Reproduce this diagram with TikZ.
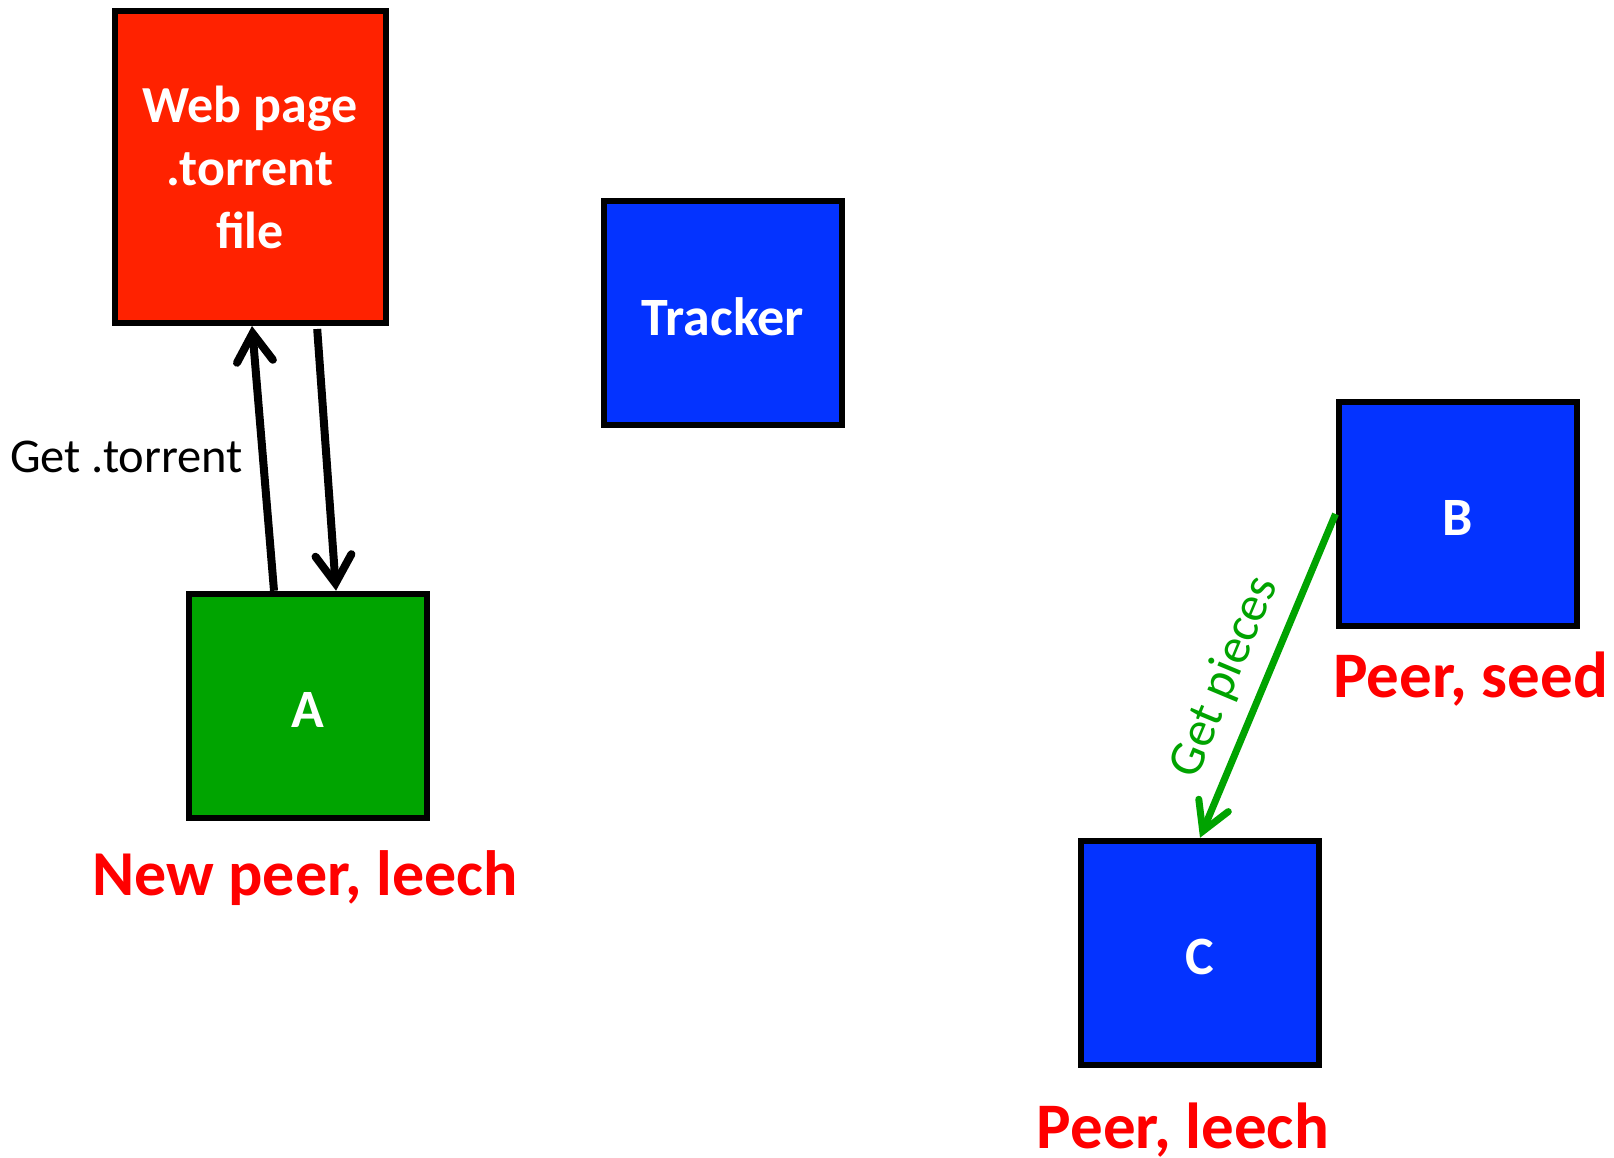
\documentclass[tikz,border=0pt]{standalone}
\usepackage{fontspec}
\setmainfont{Carlito}
\usetikzlibrary{arrows.meta}
\definecolor{pagered}{HTML}{FF2200}
\definecolor{peerblue}{HTML}{0433FF}
\definecolor{newgreen}{HTML}{00A400}
\definecolor{linkgreen}{HTML}{00A300}
\definecolor{labelred}{HTML}{FF0000}
\begin{document}
\begin{tikzpicture}[x=1pt,y=-1pt,
  box/.style={draw=black, line width=6pt, rectangle, inner sep=0pt,
    text=white, align=center, font=\bfseries\fontsize{54}{62}\selectfont},
  peerbox/.style={box, fill=peerblue, minimum width=238pt, minimum height=224.5pt,
    text height=42pt, text depth=0pt},
  role/.style={text=labelred, inner sep=0pt, font=\bfseries\fontsize{65}{72}\selectfont},
  fetch/.style={line width=8pt, -{Straight Barb[length=28pt,width=36pt,line cap=round,line join=miter]}},
  share/.style={draw=linkgreen, line width=7pt, -{Straight Barb[length=28pt,width=32pt,line cap=round,line join=miter]}}
]
\useasboundingbox (0,0) rectangle (1614,1158);

% the boxes
\node[box, fill=pagered, minimum width=271pt, minimum height=312pt,
  font=\bfseries\fontsize{52}{63}\selectfont] (web) at (250,167) {Web page\\.torrent\\file};
\node[peerbox, text height=44pt] (tracker) at (723,313) {Tracker};
\node[peerbox, fill=newgreen] (A) at (308,706) {A};
\node[peerbox] (B) at (1457.5,514) {B};
\node[peerbox] (C) at (1200,953) {C};

% roles of the peers
\node[role, font=\bfseries\fontsize{64}{72}\selectfont, anchor=base] (roleA) at (305,895) {New peer, leech};
\node[role, anchor=base west] (roleB) at (1333,697) {Peer, seed};
\node[role, anchor=base] (roleC) at (1183,1148) {Peer, leech};

% fetching the .torrent file
\draw[fetch] ([xshift=-34pt]A.north) -- ([xshift=2pt]web.south);
\draw[fetch, shorten <=3pt] ([xshift=67pt]web.south) -- ([xshift=28pt]A.north);
\node[anchor=base west, inner sep=0pt, font=\fontsize{48.5}{56}\selectfont] (gettorrent) at (10,472) {Get .torrent};

% pieces from the seed
\draw[share] (B.west) -- node[pos=0.55, sloped, above=11pt, text=linkgreen,
  font=\fontsize{50}{58}\selectfont] (getpieces) {Get pieces} (C.north);
\end{tikzpicture}
\end{document}
